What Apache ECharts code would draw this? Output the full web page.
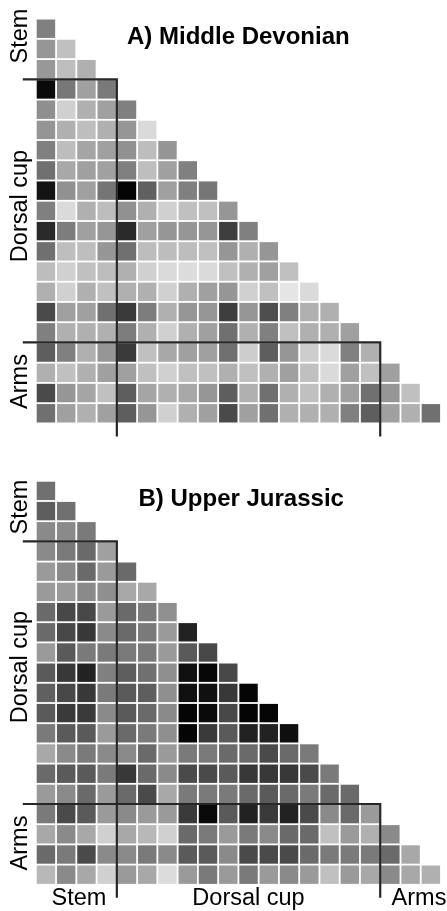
<!DOCTYPE html>
<html><head><meta charset="utf-8">
<script src="https://cdn.jsdelivr.net/npm/echarts@6/dist/echarts.min.js"></script>
<style>html,body{margin:0;padding:0;background:#fff}#c{width:447px;height:911px}</style>
</head><body><div id="c"></div>
<script>
// Gray level (0 = black, 255 = white) of each cell, row by row (lower triangle, no diagonal)
const devonianRows = [
  [128],
  [150,192],
  [152,190,176],
  [10,120,160,122],
  [143,208,176,160,128],
  [149,176,190,176,150,218],
  [128,189,165,160,145,189,149],
  [112,168,160,160,128,190,160,128],
  [20,145,160,117,5,96,160,128,118],
  [128,218,176,189,145,176,208,192,192,150],
  [42,125,160,150,42,160,150,150,150,62,128],
  [112,190,190,150,112,189,189,189,192,150,176,150],
  [189,208,192,189,176,208,218,220,218,192,176,160,192],
  [176,208,176,192,176,176,208,176,160,150,208,192,229,218],
  [74,160,160,112,58,125,176,150,150,62,150,78,128,176,176],
  [128,176,176,176,125,176,208,176,160,112,176,128,192,176,176,160],
  [94,128,176,150,58,192,168,160,160,112,205,94,150,205,218,128,176],
  [176,192,176,160,160,192,208,192,192,176,192,176,160,192,218,160,192,160],
  [74,150,165,192,94,165,176,168,150,94,176,112,176,192,176,160,112,150,192],
  [112,160,176,160,94,150,208,176,160,74,160,112,176,176,176,128,94,160,176,112]
];
const jurassicRows = [
  [112],
  [94,112],
  [138,138,122],
  [138,122,106,160],
  [154,138,106,154,106],
  [154,154,138,143,168,168],
  [106,72,72,154,106,122,144],
  [106,72,56,138,106,122,154,34],
  [154,90,122,122,122,122,154,90,72],
  [90,56,34,128,94,112,143,16,7,72],
  [96,72,56,122,90,94,143,16,16,56,5],
  [90,58,58,138,90,106,138,5,10,72,5,5],
  [122,90,90,154,106,122,143,5,58,90,34,34,15],
  [168,138,122,138,138,106,154,122,122,106,106,74,106,122],
  [106,90,90,122,56,106,138,74,74,90,56,56,56,74,122],
  [154,138,106,154,106,74,168,122,122,122,106,90,106,122,106,106],
  [122,74,90,154,138,154,154,58,10,90,34,58,34,74,138,106,154],
  [168,138,168,208,168,184,208,106,122,154,122,138,106,106,192,154,176,138],
  [106,122,74,138,138,122,138,90,90,138,74,74,74,106,122,122,122,106,168],
  [184,138,168,208,154,168,220,154,122,154,122,154,138,154,192,154,168,138,168,176]
];
const panelTitles = ['A) Middle Devonian', 'B) Upper Jurassic'];
const groupLabels = ['Stem', 'Dorsal cup', 'Arms'];
// module boundaries: [column index, row index] where a block ends
const boundaries = [[4, 3], [17, 16]];
const nCols = 20, nRows = 20;

function toCells(rows) {
  const out = [];
  rows.forEach((row, r) => row.forEach((v, c) => out.push([c, r, v])));
  return out;
}

const GAP = 1.8;
function renderCell(params, api) {
  const c = api.value(0), r = api.value(1), v = api.value(2);
  const p0 = api.coord([c, r]);
  const p1 = api.coord([c + 1, r + 1]);
  return {
    type: 'rect',
    shape: { x: p0[0] + GAP / 2, y: p0[1] + GAP / 2, width: p1[0] - p0[0] - GAP, height: p1[1] - p0[1] - GAP },
    style: { fill: 'rgb(' + v + ',' + v + ',' + v + ')' }
  };
}
function renderLine(params, api) {
  const cs = params.coordSys;
  const p = api.coord([api.value(0), api.value(1)]);
  return {
    type: 'polyline',
    shape: { points: [[cs.x - 13, p[1]], [p[0], p[1]], [p[0], cs.y + cs.height + 13]] },
    style: { stroke: '#262626', lineWidth: 2.2, fill: null }
  };
}

const grids = [
  { left: 35.8, top: 18.6, width: 405.2, height: 404.8 },
  { left: 35.8, top: 480.8, width: 405.2, height: 404 }
];
const FONT = '"Liberation Sans", Arial, Helvetica, sans-serif';

const chart = echarts.init(document.getElementById('c'), null, { renderer: 'canvas' });
const series = [];
[devonianRows, jurassicRows].forEach((rows, i) => {
  series.push({ type: 'custom', xAxisIndex: i, yAxisIndex: i, renderItem: renderCell, data: toCells(rows), silent: true, animation: false });
  series.push({ type: 'custom', xAxisIndex: i, yAxisIndex: i, renderItem: renderLine, data: boundaries, clip: false, silent: true, animation: false, z: 5 });
});

const leftLabelY = [[36, 206, 381.5], [507, 667, 843]];
const bottomLabelX = [79, 248.5, 419];
const graphics = [];
leftLabelY.forEach(ys => ys.forEach((y, k) => graphics.push({
  type: 'text', x: 20.5, y: y, rotation: Math.PI / 2,
  style: { text: groupLabels[k], fontSize: 23.5, fontFamily: FONT, fill: '#000', align: 'center', verticalAlign: 'middle' }
})));
bottomLabelX.forEach((x, k) => graphics.push({
  type: 'text', x: x, y: 899,
  style: { text: groupLabels[k], fontSize: 23.5, fontFamily: FONT, fill: '#000', align: 'center', verticalAlign: 'middle' }
}));
[[127, 37.5], [138.5, 499]].forEach((p, i) => graphics.push({
  type: 'text', x: p[0], y: p[1],
  style: { text: panelTitles[i], fontSize: 24, fontWeight: 'bold', fontFamily: FONT, fill: '#000', align: 'left', verticalAlign: 'middle' }
}));

chart.setOption({
  animation: false,
  backgroundColor: '#fff',
  grid: grids,
  xAxis: grids.map((g, i) => ({ type: 'value', gridIndex: i, min: 0, max: nCols, show: false })),
  yAxis: grids.map((g, i) => ({ type: 'value', gridIndex: i, min: 0, max: nRows, inverse: true, show: false })),
  series: series,
  graphic: graphics
});
</script></body></html>
